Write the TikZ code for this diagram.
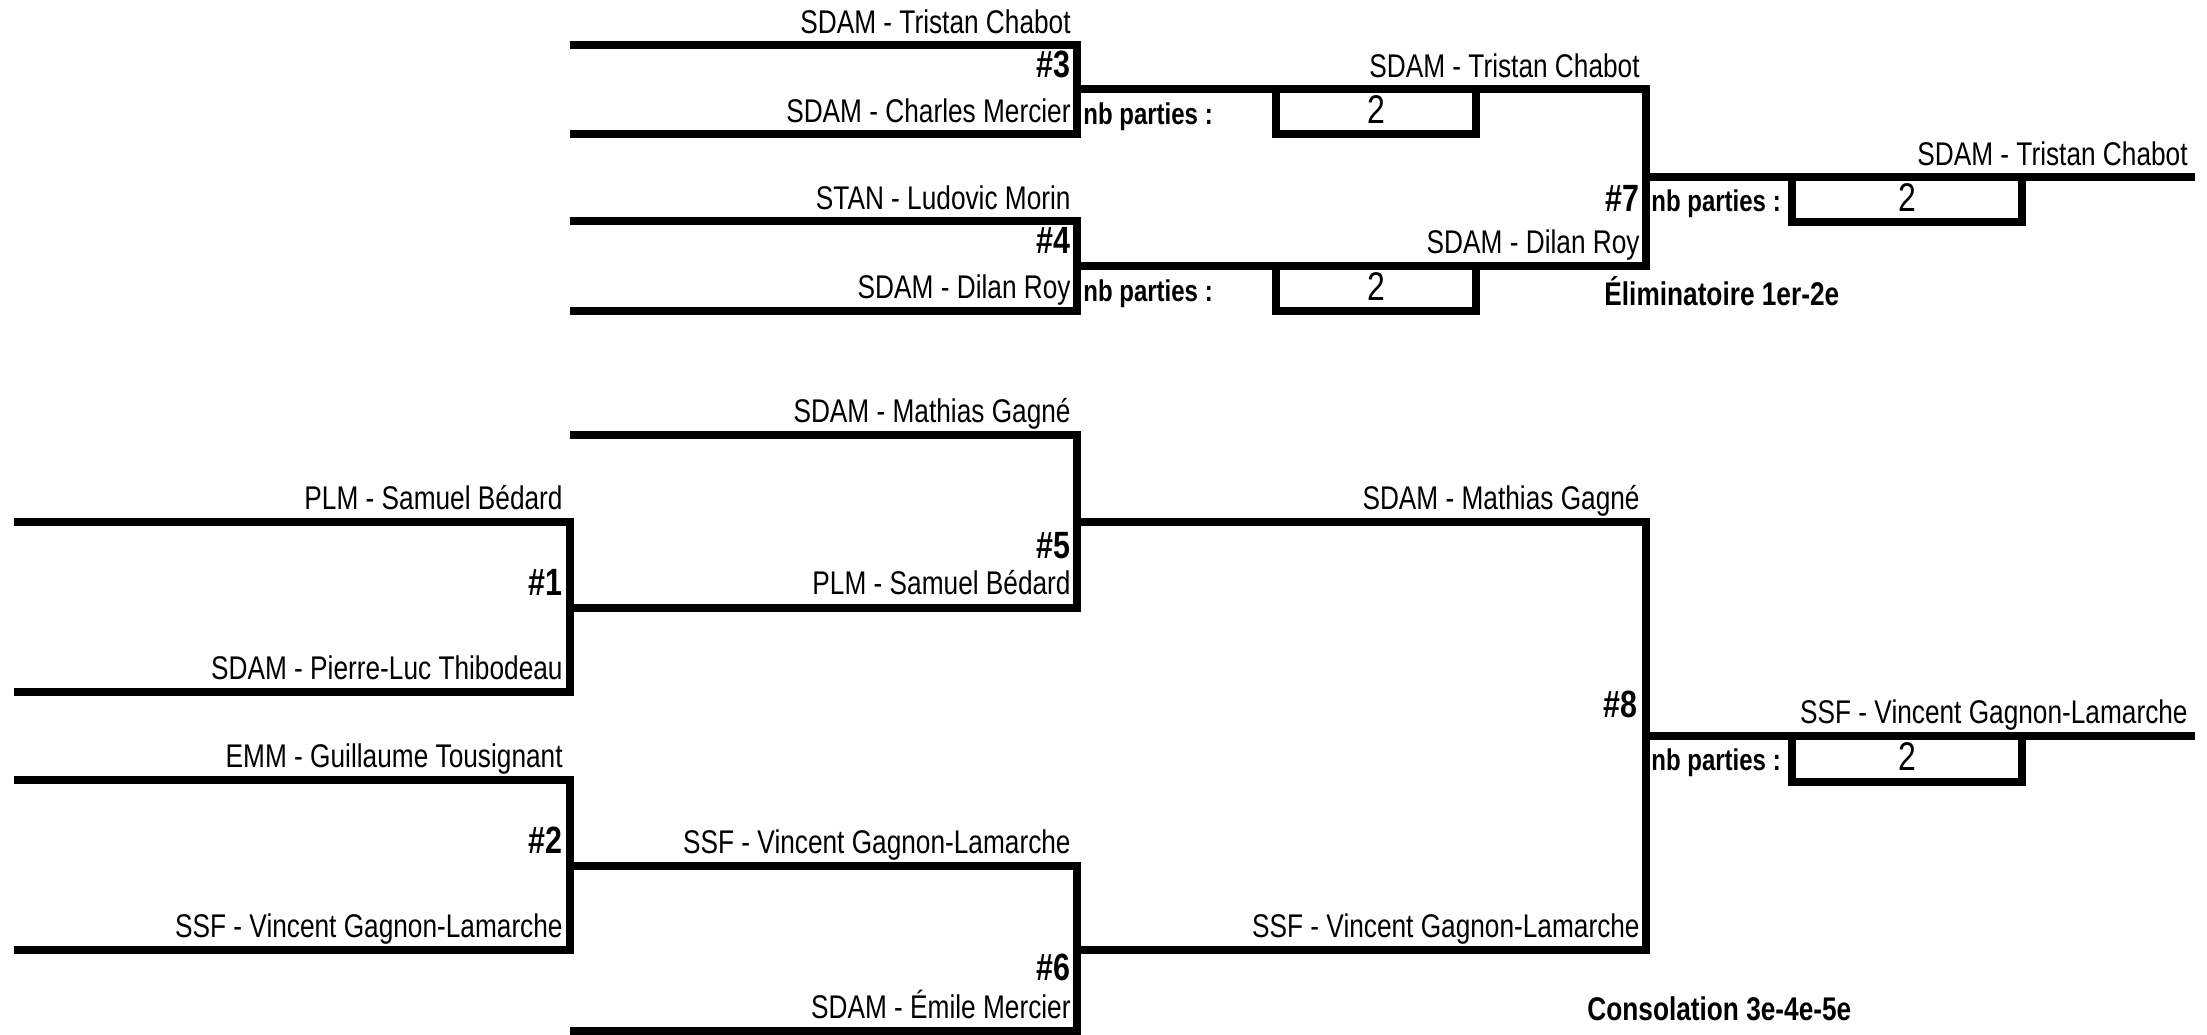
\documentclass[tikz,border=0pt]{standalone}
\usepackage{fontspec}
\setmainfont{Liberation Sans}[FakeStretch=0.8]

\begin{document}
\begin{tikzpicture}[x=0.5pt,y=-0.5pt,
  bracket/.style={line width=3.6pt,line join=miter},
  player/.style={anchor=base east,inner sep=0pt,font=\fontsize{16.4}{18}\selectfont},
  match/.style={anchor=base east,inner sep=0pt,font=\bfseries\fontsize{19}{20}\selectfont},
  parties/.style={anchor=base west,inner sep=0pt,font=\bfseries\fontsize{15}{16}\selectfont},
  score/.style={anchor=base,inner sep=0pt,font=\fontsize{20}{20}\selectfont},
  roundtitle/.style={anchor=base west,inner sep=0pt,font=\bfseries\fontsize{16.4}{18}\selectfont}]
\useasboundingbox (0,0) rectangle (2207,1034);

\pgfmathsetmacro{\xa}{14};
\pgfmathsetmacro{\xb}{570};
\pgfmathsetmacro{\xc}{1077};
\pgfmathsetmacro{\xd}{1646};
\pgfmathsetmacro{\xe}{2195};

% Eliminatoire
\begin{scope}
\coordinate (p3a) at (\xb,45);
\coordinate (m3) at (\xc,89);
\coordinate (p3b) at (\xb,134);
\coordinate (p4a) at (\xb,221);
\coordinate (m4) at (\xc,266);
\coordinate (p4b) at (\xb,311);
\coordinate (m7) at (\xd,177);
\coordinate (f7) at (\xe,177);

\draw[bracket] (p3a) -| (m3) |- (p3b);
\draw[bracket] (p4a) -| (m4) |- (p4b);
\draw[bracket] (m3) -| (m7) |- (m4);
\draw[bracket] (m7) -- (f7);

\draw[bracket] (1276,89) |- (1476,134) -- (1476,89);
\draw[bracket] (1276,266) |- (1476,311) -- (1476,266);
\draw[bracket] (1792,177) |- (2022,222) -- (2022,177);

\node[player] (t3a) at (1071,33) {SDAM - Tristan Chabot};
\node[match] (n3) at (1071,77) {\#3};
\node[player] (t3b) at (1071,122) {SDAM - Charles Mercier};
\node[parties] (q3) at (1083,124) {nb parties :};
\node[score] (s3) at (1376,123) {2};

\node[player] (t4a) at (1071,209) {STAN - Ludovic Morin};
\node[match] (n4) at (1071,253) {\#4};
\node[player] (t4b) at (1071,298) {SDAM - Dilan Roy};
\node[parties] (q4) at (1083,301) {nb parties :};
\node[score] (s4) at (1376,300) {2};

\node[player] (t7a) at (1640,77) {SDAM - Tristan Chabot};
\node[player] (t7b) at (1640,253) {SDAM - Dilan Roy};
\node[match] (n7) at (1640,211) {\#7};
\node[parties] (q7) at (1651,211) {nb parties :};
\node[score] (s7) at (1907,211) {2};
\node[player] (w7) at (2188,165) {SDAM - Tristan Chabot};
\node[roundtitle] (r7) at (1604,305) {Éliminatoire 1er-2e};
\end{scope}

% Consolation
\begin{scope}
\coordinate (p1a) at (\xa,522);
\coordinate (m1) at (\xb,608);
\coordinate (p1b) at (\xa,692);
\coordinate (p2a) at (\xa,780);
\coordinate (m2) at (\xb,866);
\coordinate (p2b) at (\xa,950);
\coordinate (p5a) at (\xb,435);
\coordinate (m5) at (\xc,522);
\coordinate (m6) at (\xc,950);
\coordinate (p6b) at (\xb,1031);
\coordinate (m8) at (\xd,736);
\coordinate (f8) at (\xe,736);

\draw[bracket] (p1a) -| (m1) |- (p1b);
\draw[bracket] (p2a) -| (m2) |- (p2b);
\draw[bracket] (p5a) -| (m5) |- (m1);
\draw[bracket] (m2) -| (m6) |- (p6b);
\draw[bracket] (m5) -| (m8) |- (m6);
\draw[bracket] (m8) -- (f8);

\draw[bracket] (1792,736) |- (2022,782) -- (2022,736);

\node[player] (t1a) at (563,509) {PLM - Samuel Bédard};
\node[match] (n1) at (563,595) {\#1};
\node[player] (t1b) at (563,679) {SDAM - Pierre-Luc Thibodeau};
\node[player] (t2a) at (563,767) {EMM - Guillaume Tousignant};
\node[match] (n2) at (563,853) {\#2};
\node[player] (t2b) at (563,937) {SSF - Vincent Gagnon-Lamarche};

\node[player] (t5a) at (1071,422) {SDAM - Mathias Gagné};
\node[match] (n5) at (1071,558) {\#5};
\node[player] (t5b) at (1071,594) {PLM - Samuel Bédard};
\node[player] (t6a) at (1071,853) {SSF - Vincent Gagnon-Lamarche};
\node[match] (n6) at (1071,980) {\#6};
\node[player] (t6b) at (1071,1018) {SDAM - Émile Mercier};

\node[player] (t8a) at (1640,509) {SDAM - Mathias Gagné};
\node[player] (t8b) at (1640,937) {SSF - Vincent Gagnon-Lamarche};
\node[match] (n8) at (1638,717) {\#8};
\node[player] (w8) at (2188,723) {SSF - Vincent Gagnon-Lamarche};
\node[parties] (q8) at (1651,770) {nb parties :};
\node[score] (s8) at (1907,770) {2};
\node[roundtitle] (r8) at (1587,1020) {Consolation 3e-4e-5e};
\end{scope}
\end{tikzpicture}
\end{document}
